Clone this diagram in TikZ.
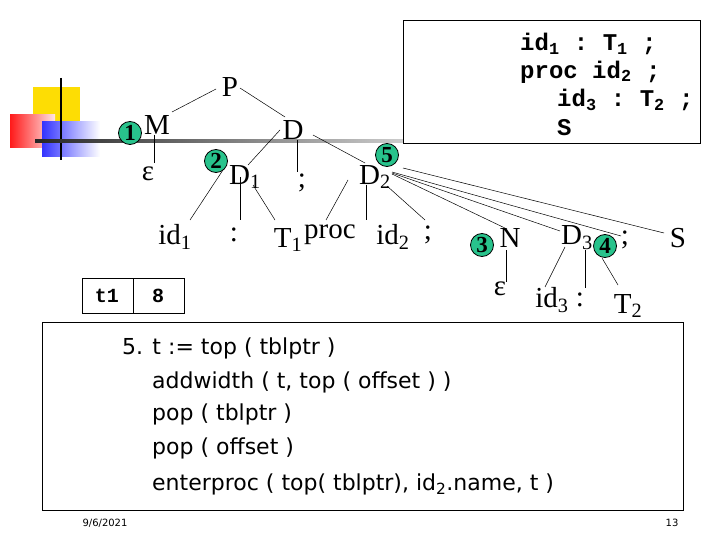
\documentclass[tikz,border=0pt]{standalone}
\usepackage{fontspec}
\setmainfont{Liberation Serif}
\setsansfont{DejaVu Sans}
\setmonofont{Liberation Mono}
\definecolor{circ}{RGB}{40,195,140}
\begin{document}
\begin{tikzpicture}[x=1pt,y=-1pt,
  t/.style={font=\fontsize{29}{31}\selectfont, inner sep=0pt},
  num/.style={circle,draw,line width=0.8pt,fill=circ,inner sep=0pt,minimum size=23pt,font=\fontsize{23}{23}\selectfont\bfseries},
  e/.style={black,line width=0.5pt},
  mono/.style={font=\fontsize{24}{26}\ttfamily\bfseries, anchor=west, inner sep=0pt},
  body/.style={font=\fontsize{22}{24}\sffamily, anchor=west, inner sep=0pt}]
\useasboundingbox (0,0) rectangle (720,540);
% decoration
\fill[yellow!80!orange] (33,87) rectangle (80,125);
\shade[left color=red!90, right color=red!10] (10,115) rectangle (55,148);
\shade[left color=blue!80, right color=white] (42,122) rectangle (100,157);
\draw[line width=2pt] (61,78) -- (61,160);
\shade[left color=black!85, right color=black!20] (35,140) rectangle (403,143);
% top-right box
\draw[line width=0.8pt] (403,20) rectangle (700,143);
\node[mono] (l1) at (520,44) {id\textsubscript{1} : T\textsubscript{1} ;};
\node[mono] (l2) at (520,72) {proc  id\textsubscript{2} ;};
\node[mono] (l3) at (557,100) {id\textsubscript{3} : T\textsubscript{2} ;};
\node[mono] (l4) at (557,128) {S};
% tree nodes
\node[t] (P) at (230,87) {P};
\node[t] (M) at (157,125) {M};
\node[t] (D) at (293,130) {D};
\node[t] (eps1) at (148,174) {ε};
\node[t] (D1) at (245,177) {D\textsubscript{1}};
\node[t] (semi1) at (302,183) {;};
\node[t] (D2) at (375,177) {D\textsubscript{2}};
\node[t] (id1) at (175,237) {id\textsubscript{1}};
\node[t] (colon1) at (234,235) {:};
\node[t] (T1) at (288,240) {T\textsubscript{1}};
\node[t] (proc) at (330,235) {proc};
\node[t] (id2) at (393,237) {id\textsubscript{2}};
\node[t] (semi2) at (428,235) {;};
\node[t] (N) at (510,238) {N};
\node[t] (D3) at (577,238) {D\textsubscript{3}};
\node[t] (semi3) at (625,240) {;};
\node[t] (S) at (678,238) {S};
\node[t] (eps2) at (500,289) {ε};
\node[t] (id3) at (552,300) {id\textsubscript{3}};
\node[t] (colon2) at (580,300) {:};
\node[t] (T2) at (628,306) {T\textsubscript{2}};
% circles
\node[num] (c1) at (130,133) {1};
\node[num] (c2) at (216,161) {2};
\node[num] (c5) at (387,155) {5};
\node[num] (c3) at (482,245) {3};
\node[num] (c4) at (605,246) {4};
% edges
\draw[e] (216,89) -- (172,112);
\draw[e] (240,88) -- (285,117);
\draw[e] (280,130) -- (248,165);
\draw[e] (297,140) -- (297,172);
\draw[e] (313,135) -- (365,163);
\draw[e] (154,135) -- (154,163);
\draw[e] (223,170) -- (190,220);
\draw[e] (240,177) -- (240,220);
\draw[e] (253,185) -- (275,220);
\draw[e] (348,180) -- (326,220);
\draw[e] (366,185) -- (366,220);
\draw[e] (387,186) -- (425,220);
\draw[e] (392,174) -- (507,229);
\draw[e] (392,173) -- (560,231);
\draw[e] (392,172) -- (621,236);
\draw[e] (403,168) -- (664,233);
\draw[e] (506,250) -- (506,282);
\draw[e] (565,247) -- (545,287);
\draw[e] (585,250) -- (585,288);
\draw[e] (602,258) -- (618,285);
% table
\draw (82,278) rectangle (184,313);
\draw (133,278) -- (133,313);
\node[font=\fontsize{20}{20}\ttfamily\bfseries] (tt) at (107,296) {t1};
\node[font=\fontsize{20}{20}\ttfamily\bfseries] (t8) at (158,296) {8};
% big box
\draw[line width=0.8pt] (42,322) rectangle (683,510);
\node[body] (b1) at (122,348) {5. t := top ( tblptr )};
\node[body] (b2) at (152,382) {addwidth ( t, top ( offset ) )};
\node[body] (b3) at (152,414) {pop ( tblptr )};
\node[body] (b4) at (152,448) {pop ( offset )};
\node[body] (b5) at (152,484) {enterproc ( top( tblptr), id\textsubscript{2}.name, t )};
\node[font=\fontsize{10}{10}\sffamily] (date) at (105,523) {9/6/2021};
\node[font=\fontsize{10}{10}\sffamily] (pg) at (672,523) {13};
\end{tikzpicture}
\end{document}
